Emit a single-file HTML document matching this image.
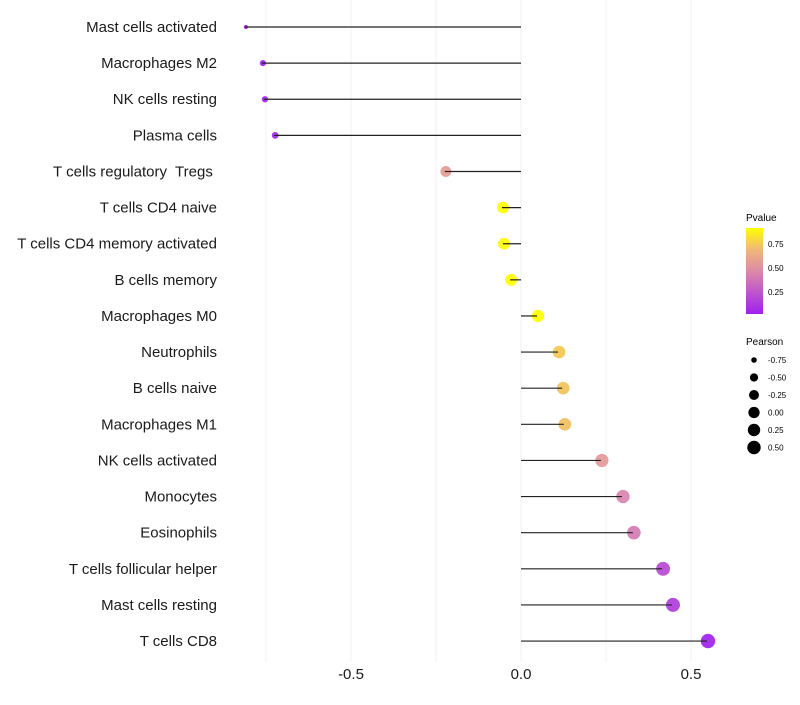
<!DOCTYPE html>
<html><head><meta charset="utf-8"><style>
body{margin:0;background:#fff;font-family:"Liberation Sans",sans-serif}
svg text{font-family:"Liberation Sans",sans-serif}
</style></head><body>
<svg id="chart" width="800" height="700" xmlns="http://www.w3.org/2000/svg">
<defs><linearGradient id="pgrad" x1="0" y1="1" x2="0" y2="0">
<stop offset="0" stop-color="#a020f0"/><stop offset="0.5" stop-color="#dc8aa8"/><stop offset="0.75" stop-color="#f0b878"/><stop offset="1" stop-color="#ffff00"/></linearGradient></defs>
<g id="grid"></g><g id="marks"></g><g id="stems"></g><g id="axes"></g>
<g id="legend">
<text x="746" y="221" font-size="10">Pvalue</text>
<rect x="746" y="228" width="17" height="86" fill="url(#pgrad)"/>
<text x="768" y="247" font-size="8">0.75</text>
<text x="768" y="271" font-size="8">0.50</text>
<text x="768" y="295" font-size="8">0.25</text>
<text x="746" y="345" font-size="10">Pearson</text>
<g id="sizeleg"></g>
</g>
</svg>
<script>
const cats=["Mast cells activated","Macrophages M2","NK cells resting","Plasma cells","T cells regulatory\u00a0 Tregs\u00a0","T cells CD4 naive","T cells CD4 memory activated","B cells memory","Macrophages M0","Neutrophils","B cells naive","Macrophages M1","NK cells activated","Monocytes","Eosinophils","T cells follicular helper","Mast cells resting","T cells CD8"];
const pearson=[-0.812,-0.762,-0.756,-0.726,-0.224,-0.056,-0.053,-0.032,0.047,0.109,0.121,0.126,0.235,0.297,0.329,0.415,0.444,0.547];
const pvalue=[0.03,0.03,0.04,0.05,0.6,0.92,0.91,0.93,0.93,0.8,0.78,0.77,0.58,0.45,0.4,0.2,0.15,0.04];
const xTicks=[-0.5,0,0.5];
const xTickLabels=["-0.5","0.0","0.5"];
const sizeLegend=[-0.75,-0.5,-0.25,0,0.25,0.5];
const sizeLegendLabels=["-0.75","-0.50","-0.25","0.00","0.25","0.50"];
const NS="http://www.w3.org/2000/svg";
const xs=v=>521+v*340;
const ys=i=>27+i*36.12;
const rs=v=>2.1+5.1*Math.sqrt(Math.max(0,v+0.812)/1.36);
function lerp(a,b,t){return a.map((x,i)=>Math.round(x+(b[i]-x)*t));}
const stops=[[0.03,[160,32,240]],[0.47,[220,138,168]],[0.7,[236,168,136]],[0.8,[242,200,80]],[0.92,[255,255,0]]];
function col(p){if(p<=stops[0][0])return "rgb("+stops[0][1]+")";
for(let i=1;i<stops.length;i++){if(p<=stops[i][0]){const t=(p-stops[i-1][0])/(stops[i][0]-stops[i-1][0]);return "rgb("+lerp(stops[i-1][1],stops[i][1],t)+")";}}
return "rgb("+stops[stops.length-1][1]+")";}
function mk(t,a,parent){const e=document.createElementNS(NS,t);for(const k in a)e.setAttribute(k,a[k]);parent.appendChild(e);return e;}
const grid=document.getElementById('grid'),marks=document.getElementById('marks'),stems=document.getElementById('stems'),axes=document.getElementById('axes');
[-0.75,-0.5,-0.25,0,0.25,0.5].forEach(v=>{const l=mk('line',{x1:xs(v),x2:xs(v),y1:0,y2:662,stroke:'#f0f0f0','stroke-width':1},grid);

});
cats.forEach((c,i)=>{const y=ys(i);
const t=mk('text',{x:217,y:y+5,'text-anchor':'end','font-size':15,fill:'#1a1a1a'},axes);t.textContent=c;


const p=mk('circle',{cx:xs(pearson[i])+1,cy:y,r:rs(pearson[i]),fill:col(pvalue[i]),'fill-opacity':0.92},marks);


const l=mk('line',{x1:xs(0),x2:xs(pearson[i]),y1:y,y2:y,stroke:'#222','stroke-width':1.2},stems);

});
xTicks.forEach((v,i)=>{const t=mk('text',{x:xs(v),y:679,'text-anchor':'middle','font-size':15,fill:'#1a1a1a'},axes);t.textContent=xTickLabels[i];

});
const sl=document.getElementById('sizeleg');
sizeLegend.forEach((v,i)=>{const y=360+i*17.5;
const c=mk('circle',{cx:754,cy:y,r:rs(v)-0.4,fill:'#000'},sl);


const t=mk('text',{x:768,y:y+3,'font-size':8},sl);t.textContent=sizeLegendLabels[i];

});
</script>
</body></html>
